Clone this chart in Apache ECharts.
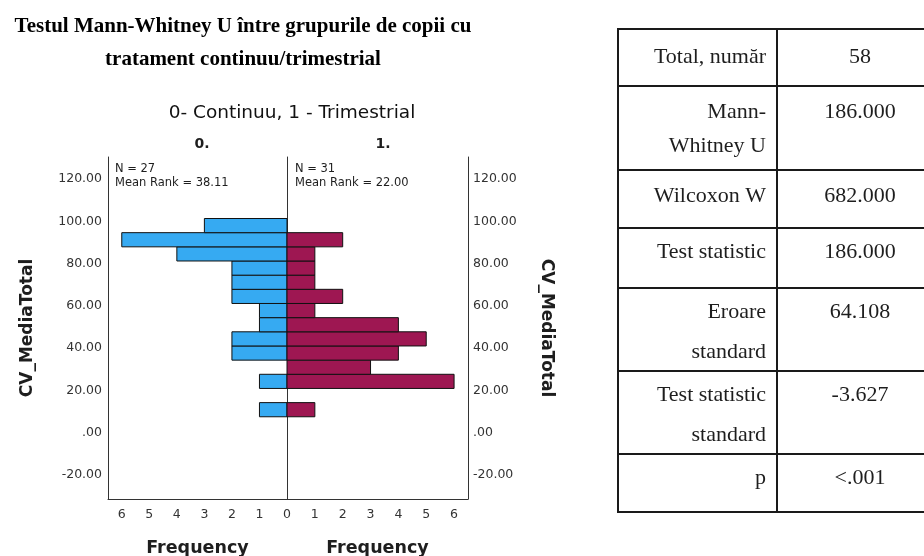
<!DOCTYPE html>
<html>
<head>
<meta charset="utf-8">
<title>Testul Mann-Whitney U</title>
<script src="https://cdn.jsdelivr.net/npm/echarts@6.0.0/dist/echarts.min.js"></script>
<style>
  html, body { margin: 0; padding: 0; background: #ffffff; }
  #chart { width: 924px; height: 556px; }
</style>
</head>
<body>
<div id="chart"></div>
<script>
// Histogram bins of CV_MediaTotal (bin edges) and frequencies per group
const binEdges = [7.5, 14.2, 20.9, 27.6, 34.3, 41.0, 47.7, 54.4, 61.1, 67.8, 74.5, 81.2, 87.9, 94.6, 101.3];
const countsContinuu = [1, 0, 1, 0, 2, 2, 1, 1, 2, 2, 2, 4, 6, 3];
const countsTrimestrial = [1, 0, 6, 3, 4, 5, 4, 1, 2, 1, 1, 1, 2, 0];
const groupLabels = ['0.', '1.'];
const meanRanks = ['38.11', '22.00'];
const yTicks = [-20, 0, 20, 40, 60, 80, 100, 120];
const freqTicksLeft = [0, 1, 2, 3, 4, 5, 6];
const freqTicksRight = [1, 2, 3, 4, 5, 6];

// Test summary table
const tableLabels = [
  ['Total, număr'],
  ['Mann-', 'Whitney U'],
  ['Wilcoxon W'],
  ['Test statistic'],
  ['Eroare', 'standard'],
  ['Test statistic', 'standard'],
  ['p']
];
const tableValues = ['58', '186.000', '682.000', '186.000', '64.108', '-3.627', '<.001'];

const SANS = 'DejaVu Sans';
const SERIF = 'Liberation Serif';
const INK = '#1e1e1e';
const AXIS = '#333333';

function binData(counts) {
  return counts.map((c, i) => [c, binEdges[i], binEdges[i + 1]]);
}
function total(counts) { return counts.reduce((a, b) => a + b, 0); }

function renderBin(params, api) {
  const count = api.value(0);
  if (!count) return null;
  const p0 = api.coord([0, api.value(1)]);
  const p1 = api.coord([count, api.value(2)]);
  return {
    type: 'rect',
    shape: {
      x: Math.min(p0[0], p1[0]),
      y: Math.min(p0[1], p1[1]),
      width: Math.abs(p1[0] - p0[0]),
      height: Math.abs(p1[1] - p0[1])
    },
    style: api.style({ stroke: '#111111', lineWidth: 1 })
  };
}

const yFormatter = v => (v === 0 ? '.00' : v.toFixed(2));

const yAxisCommon = {
  type: 'value',
  min: -31.4,
  max: 130.4,
  splitLine: { show: false },
  axisTick: { show: false },
  axisLine: { show: true, onZero: false, lineStyle: { color: AXIS, width: 1 } }
};

const xAxisCommon = {
  type: 'value',
  min: 0,
  max: 6.5,
  splitLine: { show: false },
  axisTick: { show: false },
  axisLine: { show: true, onZero: false, lineStyle: { color: AXIS, width: 1 } },
  name: 'Frequency',
  nameLocation: 'middle',
  nameGap: 40,
  nameTextStyle: { fontFamily: SANS, fontSize: 17.5, fontWeight: 'bold', color: INK }
};

// Table geometry
const tableRowEdges = [29, 86, 170, 228, 288, 371, 454, 512];
const tableX = [618, 777, 944];
const firstLineOffset = [28, 26, 26, 24, 24, 24, 24];
const secondLineGap = [0, 34, 0, 0, 40, 40, 0];
const tableGraphics = [];
tableRowEdges.forEach(y => {
  tableGraphics.push({ type: 'line', shape: { x1: tableX[0] - 1, y1: y, x2: tableX[2], y2: y },
    style: { stroke: '#1a1a1a', lineWidth: 2 } });
});
tableX.forEach(x => {
  tableGraphics.push({ type: 'line', shape: { x1: x, y1: tableRowEdges[0], x2: x, y2: tableRowEdges[tableRowEdges.length - 1] },
    style: { stroke: '#1a1a1a', lineWidth: 2 } });
});
tableLabels.forEach((lines, r) => {
  const top = tableRowEdges[r] + firstLineOffset[r];
  lines.forEach((t, k) => {
    tableGraphics.push({ type: 'text', x: 766, y: top + k * secondLineGap[r],
      style: { text: t, fill: INK, fontFamily: SERIF, fontSize: 22, textAlign: 'right', textVerticalAlign: 'middle' } });
  });
  tableGraphics.push({ type: 'text', x: 860, y: top,
    style: { text: tableValues[r], fill: INK, fontFamily: SERIF, fontSize: 22, textAlign: 'center', textVerticalAlign: 'middle' } });
});

const option = {
  backgroundColor: '#ffffff',
  animation: false,
  title: [
    {
      text: 'Testul Mann-Whitney U între grupurile de copii cu\ntratament continuu/trimestrial',
      left: 238, top: 5, textAlign: 'center',
      textStyle: { fontFamily: SERIF, fontSize: 21, fontWeight: 'bold', color: '#000000', lineHeight: 33 }
    },
    {
      text: '0- Continuu, 1 - Trimestrial',
      left: 287, top: 99, textAlign: 'center',
      textStyle: { fontFamily: SANS, fontSize: 18.5, fontWeight: 'normal', color: '#111111' }
    },
    {
      text: groupLabels[0], left: 197, top: 132, textAlign: 'center',
      textStyle: { fontFamily: SANS, fontSize: 14, fontWeight: 'bold', color: INK }
    },
    {
      text: groupLabels[1], left: 378, top: 132, textAlign: 'center',
      textStyle: { fontFamily: SANS, fontSize: 14, fontWeight: 'bold', color: INK }
    },
    {
      text: 'N = ' + total(countsContinuu) + '\nMean Rank = ' + meanRanks[0],
      left: 110, top: 157,
      textStyle: { fontFamily: SANS, fontSize: 11.5, fontWeight: 'normal', color: INK, lineHeight: 14 }
    },
    {
      text: 'N = ' + total(countsTrimestrial) + '\nMean Rank = ' + meanRanks[1],
      left: 290, top: 157,
      textStyle: { fontFamily: SANS, fontSize: 11.5, fontWeight: 'normal', color: INK, lineHeight: 14 }
    }
  ],
  grid: [
    { left: 108, top: 157, width: 179, height: 342, containLabel: false, outerBoundsMode: 'none' },
    { left: 287, top: 157, width: 181, height: 342, containLabel: false, outerBoundsMode: 'none' }
  ],
  xAxis: [
    Object.assign({}, xAxisCommon, {
      gridIndex: 0, inverse: true,
      axisLabel: { customValues: freqTicksLeft, margin: 9, fontFamily: SANS, fontSize: 12.5, color: AXIS }
    }),
    Object.assign({}, xAxisCommon, {
      gridIndex: 1,
      axisLabel: { customValues: freqTicksRight, margin: 9, fontFamily: SANS, fontSize: 12.5, color: AXIS }
    })
  ],
  yAxis: [
    Object.assign({}, yAxisCommon, {
      gridIndex: 0, position: 'left',
      axisLabel: { customValues: yTicks, formatter: yFormatter, margin: 6, fontFamily: SANS, fontSize: 12.5, color: AXIS },
      name: 'CV_MediaTotal', nameLocation: 'middle', nameRotate: 90, nameGap: 72,
      nameTextStyle: { fontFamily: SANS, fontSize: 17, fontWeight: 'bold', color: INK }
    }),
    Object.assign({}, yAxisCommon, {
      gridIndex: 0, position: 'right',
      axisLabel: { show: false }
    }),
    Object.assign({}, yAxisCommon, {
      gridIndex: 1, position: 'right',
      axisLabel: { customValues: yTicks, formatter: yFormatter, margin: 5, fontFamily: SANS, fontSize: 12.5, color: AXIS },
      name: 'CV_MediaTotal', nameLocation: 'middle', nameRotate: -90, nameGap: 70,
      nameTextStyle: { fontFamily: SANS, fontSize: 17, fontWeight: 'bold', color: INK }
    })
  ],
  series: [
    {
      name: '0- Continuu', type: 'custom', xAxisIndex: 0, yAxisIndex: 0,
      itemStyle: { color: '#36AAF2' },
      encode: { x: 0, y: [1, 2] },
      renderItem: renderBin,
      data: binData(countsContinuu)
    },
    {
      name: '1 - Trimestrial', type: 'custom', xAxisIndex: 1, yAxisIndex: 2,
      itemStyle: { color: '#9E1752' },
      encode: { x: 0, y: [1, 2] },
      renderItem: renderBin,
      data: binData(countsTrimestrial)
    }
  ],
  graphic: tableGraphics
};

const chart = echarts.init(document.getElementById('chart'), null, { renderer: 'canvas' });
chart.setOption(option);
</script>
</body>
</html>
